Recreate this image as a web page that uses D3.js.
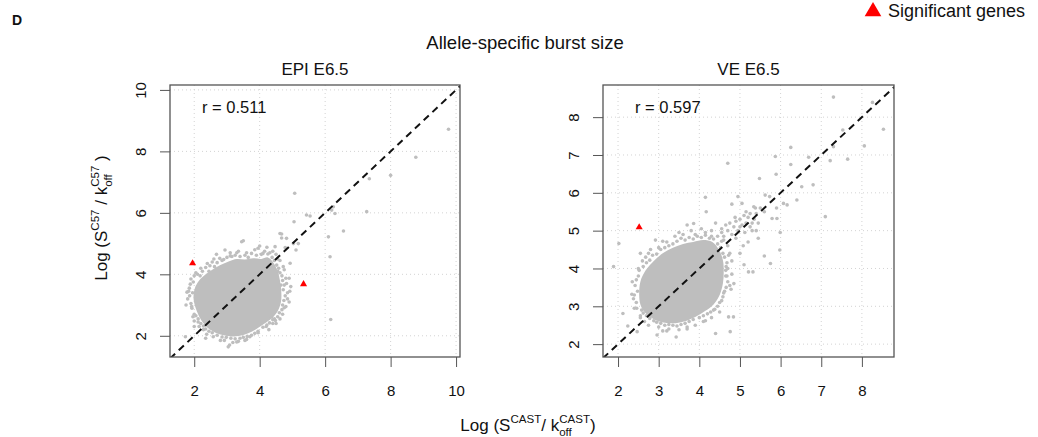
<!DOCTYPE html>
<html>
<head>
<meta charset="utf-8">
<script src="https://cdn.jsdelivr.net/npm/d3@7"></script>
<style>
  body { margin: 0; background: #fff; }
  text { font-family: "Liberation Sans", Arial, Helvetica, sans-serif; fill: #111; white-space: pre; }
</style>
</head>
<body>
<svg id="chart" width="1038" height="437"></svg>
<script>
// ---- data ----
var epiTicks = [2, 4, 6, 8, 10];
var veTicks = [2, 3, 4, 5, 6, 7, 8];
var rLabels = ["r = 0.511", "r = 0.597"];

// dense centre of each cloud (outline, data units)
var epiCore = [[1.98,3.20],[2.02,3.55],[2.15,3.80],[2.35,4.00],[2.55,4.15],[2.80,4.30],[3.05,4.42],[3.30,4.50],
  [3.55,4.48],[3.80,4.52],[4.05,4.50],[4.25,4.55],[4.42,4.38],[4.55,4.10],[4.62,3.80],[4.66,3.45],[4.65,3.10],
  [4.55,2.80],[4.38,2.58],[4.15,2.40],[3.90,2.22],[3.65,2.08],[3.40,2.00],[3.15,1.98],[2.90,2.02],[2.65,2.10],
  [2.42,2.25],[2.22,2.50],[2.08,2.80]];
var veCore = [[2.52,3.30],[2.55,3.65],[2.68,3.95],[2.88,4.20],[3.10,4.40],[3.35,4.55],[3.60,4.65],[3.85,4.70],
  [4.10,4.75],[4.32,4.70],[4.48,4.50],[4.58,4.22],[4.60,3.90],[4.58,3.60],[4.50,3.30],[4.35,3.05],[4.15,2.88],
  [3.90,2.72],[3.62,2.60],[3.35,2.55],[3.08,2.58],[2.85,2.68],[2.65,2.85],[2.55,3.05]];

// single genes outside the dense centre
var epiPoints = [[1.85,3.55],[1.80,3.20],[1.90,3.85],[2.05,4.05],[2.20,4.20],[2.40,4.35],[2.60,4.50],[2.68,4.65],
  [2.94,4.79],[2.85,4.45],[3.10,4.60],[3.30,4.70],[3.45,5.06],[3.50,5.09],[3.60,4.70],[3.85,4.80],[4.00,4.92],
  [4.10,4.68],[4.31,4.70],[4.47,4.90],[4.62,5.33],[4.67,5.31],[4.67,5.18],[4.82,5.17],[4.78,4.87],[5.03,5.00],
  [5.11,4.79],[5.18,5.00],[4.93,4.36],[4.80,3.87],[4.90,3.87],[4.95,3.60],[4.85,3.40],[4.90,3.10],[4.75,2.91],
  [4.70,2.70],[4.45,2.55],[4.36,2.62],[4.40,2.40],[4.20,2.30],[3.95,2.10],[3.70,1.97],[3.55,1.85],[3.30,1.80],
  [3.04,1.64],[3.08,1.70],[2.80,1.85],[2.58,1.97],[2.35,1.92],[2.28,2.20],[2.12,2.45],[2.00,2.70],[1.92,2.95],
  [1.73,1.97],[1.83,3.45],[1.75,3.00],[2.00,2.30],[4.55,4.10],[4.65,3.65],[4.55,4.50],[4.35,4.30],
  [1.90,3.05],[1.95,3.40],[1.88,3.68],[1.97,3.75],[1.93,2.90],[1.86,3.30],[2.00,3.95],[1.78,3.42],[1.96,2.62],
  [2.10,4.00],[2.25,4.10],[2.18,3.95],[2.35,4.22],[2.48,4.28],[2.55,4.40],[2.70,4.38],[2.78,4.52],[2.90,4.48],
  [2.45,4.10],[2.62,4.25],[3.00,4.55],[3.15,4.58],[3.25,4.62],[3.40,4.58],[3.55,4.62],[3.65,4.55],[3.75,4.68],
  [3.90,4.62],[4.05,4.65],[4.15,4.75],[4.25,4.66],[3.35,4.75],[3.95,4.85],[4.22,4.88],[3.10,4.70],[4.38,4.55],
  [4.45,4.45],[4.52,4.30],[4.58,4.20],[4.62,4.05],[4.68,3.95],[4.72,4.25],[4.50,4.65],[4.40,4.75],[4.62,4.45],
  [4.75,4.15],[4.70,3.80],[4.75,3.65],[4.72,3.50],[4.78,3.30],[4.74,3.15],[4.70,3.00],[4.68,2.85],[4.82,3.70],
  [4.85,3.20],[4.80,2.95],[4.92,3.45],[4.60,2.75],[4.55,2.62],[4.48,2.50],[4.40,2.52],[4.30,2.42],[4.22,2.35],
  [4.10,2.28],[4.50,2.40],[4.62,2.55],[4.28,2.20],[3.95,2.15],[3.85,2.08],[3.75,2.02],[3.62,1.98],[3.50,1.95],
  [3.40,1.92],[3.25,1.90],[3.12,1.92],[2.98,1.95],[2.85,1.96],[2.70,2.02],[3.35,1.82],[3.60,1.88],[2.92,1.85],
  [3.18,1.78],[2.55,2.10],[2.45,2.15],[2.35,2.22],[2.28,2.32],[2.20,2.40],[2.12,2.55],[2.05,2.65],[2.38,2.05],
  [2.15,2.30],[2.00,2.48],
  [5.07,6.64],[5.05,5.71],[5.43,5.93],[5.54,5.90],[6.25,6.20],[6.20,6.09],[6.30,5.98],[6.10,5.22],[6.15,4.57],
  [6.17,2.53],[6.56,5.41],[7.27,6.04],[7.35,7.11],[8.00,7.22],[8.77,7.81],[9.77,8.72]];
var vePoints = [[2.40,3.30],[2.34,3.32],[2.45,3.70],[2.50,4.00],[2.60,4.20],[2.75,4.40],[2.92,4.75],[2.55,4.40],
  [3.00,4.55],[3.20,4.70],[3.40,4.85],[3.70,5.15],[3.86,5.19],[3.60,4.90],[3.90,4.90],[4.15,4.95],[4.30,4.85],
  [4.15,5.88],[4.17,5.50],[4.40,5.20],[4.55,4.95],[4.60,4.75],[4.70,4.60],[4.75,4.40],[4.80,4.20],[4.70,4.00],
  [4.65,3.80],[4.75,3.55],[4.60,3.35],[4.50,3.10],[4.35,2.90],[4.72,2.72],[4.84,2.72],[4.76,2.33],[4.40,2.28],
  [4.10,2.60],[3.90,2.50],[3.70,2.40],[3.43,2.19],[3.20,2.35],[2.96,2.24],[3.00,2.45],[2.75,2.50],[2.47,2.33],
  [2.24,2.48],[2.12,2.81],[2.55,2.75],[2.40,2.95],[2.02,4.66],[1.89,4.05],
  [2.45,3.10],[2.48,3.40],[2.42,3.55],[2.50,3.80],[2.38,3.20],[2.46,2.95],[2.35,3.65],[2.52,3.95],[2.62,4.05],
  [2.70,4.15],[2.78,4.22],[2.85,4.35],[2.95,4.38],[3.05,4.50],[3.15,4.55],[3.25,4.60],[2.80,4.50],[3.10,4.72],
  [2.68,4.30],[3.35,4.65],[3.45,4.72],[3.55,4.80],[3.65,4.75],[3.75,4.82],[3.85,4.78],[3.95,4.85],[4.05,4.82],
  [4.15,4.88],[4.25,4.80],[4.35,4.78],[3.50,4.95],[3.80,5.00],[4.05,5.05],[4.30,5.00],[4.45,4.65],[4.52,4.55],
  [4.58,4.40],[4.62,4.30],[4.68,4.15],[4.66,4.05],[4.72,4.35],[4.55,4.72],[4.65,3.95],[4.68,3.80],[4.70,3.65],
  [4.66,3.50],[4.62,3.40],[4.58,3.25],[4.55,3.15],[4.80,3.85],[4.78,3.45],[4.85,3.60],[4.45,3.00],[4.38,2.92],
  [4.28,2.85],[4.20,2.80],[4.10,2.75],[4.00,2.70],[4.30,2.70],[4.50,2.85],[4.15,2.62],[3.85,2.65],[3.75,2.60],
  [3.65,2.55],[3.55,2.52],[3.45,2.48],[3.35,2.50],[3.25,2.52],[3.15,2.50],[3.05,2.55],[2.95,2.58],[3.50,2.38],
  [3.25,2.40],[3.70,2.45],[3.10,2.35],[2.88,2.62],[2.78,2.68],[2.70,2.75],[2.62,2.82],[2.58,2.90],[2.65,2.60],
  [2.55,2.70],
  [4.60,4.85],[4.70,5.00],[4.80,4.90],[4.85,5.10],[4.90,5.25],[4.95,5.00],[5.00,5.30],[5.05,5.15],[5.10,5.40],
  [5.15,5.20],[5.20,5.35],[5.25,5.10],[5.30,5.00],[5.35,5.30],[5.40,5.45],[5.45,5.20],[5.05,5.72],[4.80,5.70],
  [4.95,5.90],[5.34,5.63],[5.21,3.91],[5.32,3.91],[5.10,4.10],[5.00,4.40],[5.20,4.70],[5.45,4.80],[5.50,5.60],
  [5.60,5.50],[4.45,4.85],[4.55,5.05],[4.65,5.15],[4.75,5.20],[4.88,5.35],[5.00,5.10],[5.15,5.50],[5.25,5.45],
  [5.30,5.20],[5.40,5.00],[5.38,5.60],[5.12,4.95],[4.90,4.80],[5.08,4.60],
  [7.30,8.53],[8.26,8.39],[8.53,7.68],[8.06,7.24],[7.65,6.89],[7.22,6.85],[7.30,7.22],[7.53,7.66],
  [7.10,5.37],[6.25,7.20],[6.25,6.75],[6.69,6.94],[6.80,6.21],[6.52,6.16],[5.87,6.96],[5.89,6.49],[6.07,5.72],
  [6.16,5.68],[5.99,4.95],[5.98,4.49],[5.75,4.13],[5.60,4.33],[5.79,5.32],[5.91,5.32],[5.48,6.38],[5.62,5.94],
  [5.73,5.90],[4.70,6.78],[6.40,5.81],[5.90,5.60]];

// significant genes (red triangles)
var epiSig = [[1.95,4.36],[5.34,3.68]];
var veSig = [[2.52,5.09]];

var svg = d3.select("#chart");

var panels = [
  {name: "EPI E6.5", left: 170, top: 85, w: 290, h: 272, xd: [1.26,10.12], yd: [1.31,10.16],
   ticks: epiTicks, core: epiCore, pts: epiPoints, sig: epiSig, r: rLabels[0]},
  {name: "VE E6.5", left: 603, top: 85, w: 291, h: 272, xd: [1.63,8.79], yd: [1.66,8.85],
   ticks: veTicks, core: veCore, pts: vePoints, sig: veSig, r: rLabels[1]}
];

panels.forEach(function(p, i) {
  var x = d3.scaleLinear().domain(p.xd).range([0, p.w]);
  var y = d3.scaleLinear().domain(p.yd).range([p.h, 0]);
  var g = svg.append("g").attr("transform", "translate(" + p.left + "," + p.top + ")");

  g.append("clipPath").attr("id", "clip" + i)
    .append("rect").attr("width", p.w).attr("height", p.h);

  // dotted grid
  g.selectAll(".vg").data(p.ticks).enter().append("line")
    .attr("x1", function(d) { return x(d); }).attr("x2", function(d) { return x(d); })
    .attr("y1", 0).attr("y2", p.h)
    .attr("stroke", "#d3d3d3").attr("stroke-dasharray", "1,3");
  g.selectAll(".hg").data(p.ticks).enter().append("line")
    .attr("y1", function(d) { return y(d); }).attr("y2", function(d) { return y(d); })
    .attr("x1", 0).attr("x2", p.w)
    .attr("stroke", "#d3d3d3").attr("stroke-dasharray", "1,3");

  var plot = g.append("g").attr("clip-path", "url(#clip" + i + ")");

  // dense core
  plot.append("path")
    .attr("d", d3.line().curve(d3.curveCatmullRomClosed)
      .x(function(d) { return x(d[0]); }).y(function(d) { return y(d[1]); })(p.core))
    .attr("fill", "#bebebe");

  plot.selectAll("circle").data(p.pts).enter().append("circle")
    .attr("cx", function(d) { return x(d[0]); })
    .attr("cy", function(d) { return y(d[1]); })
    .attr("r", 1.8)
    .attr("fill", "#bebebe");

  // y = x
  var lo = Math.min(p.xd[0], p.yd[0]), hi = Math.max(p.xd[1], p.yd[1]);
  plot.append("line")
    .attr("x1", x(lo)).attr("y1", y(lo)).attr("x2", x(hi)).attr("y2", y(hi))
    .attr("stroke", "#111").attr("stroke-width", 2).attr("stroke-dasharray", "7,5");

  plot.selectAll(".sig").data(p.sig).enter().append("path")
    .attr("d", d3.symbol().type(d3.symbolTriangle).size(22))
    .attr("transform", function(d) { return "translate(" + x(d[0]) + "," + y(d[1]) + ")"; })
    .attr("fill", "#f00");

  g.append("rect").attr("width", p.w).attr("height", p.h)
    .attr("fill", "none").attr("stroke", "#555").attr("stroke-width", 1.3);

  // axes
  var xa = g.append("g").attr("transform", "translate(0," + p.h + ")")
    .call(d3.axisBottom(x).tickValues(p.ticks).tickSize(10).tickFormat(d3.format("d")));
  xa.select(".domain").remove();
  xa.selectAll("line").attr("stroke", "#555");
  xa.selectAll("text").attr("y", 39).attr("dy", null)
    .style("font-size", "15px").attr("fill", "#222");

  var ya = g.append("g")
    .call(d3.axisLeft(y).tickValues(p.ticks).tickSize(10).tickFormat(d3.format("d")));
  ya.select(".domain").remove();
  ya.selectAll("line").attr("stroke", "#555");
  ya.selectAll("text").attr("x", null).attr("dy", null)
    .attr("text-anchor", "middle").attr("transform", "translate(-24,0) rotate(-90)")
    .style("font-size", "15px").attr("fill", "#222");

  g.append("text").attr("x", p.w / 2).attr("y", -10).attr("text-anchor", "middle")
    .style("font-size", "17px").text(p.name);
  g.append("text").attr("x", 32).attr("y", 28).style("font-size", "16.5px").text(p.r);
});

// label with super/subscripts; parts laid out one after another
function richLabel(parts, size) {
  var g = svg.append("g"), pos = 0, hold = 0;
  parts.forEach(function(q) {
    var fs = q.r === "n" ? size : size * 0.68;
    var t = g.append("text").attr("x", pos)
      .attr("y", q.r === "sup" ? -size * 0.45 : (q.r === "sub" ? size * 0.28 : 0))
      .style("font-size", fs + "px").text(q.t);
    var w = t.node().getComputedTextLength();
    if (q.hold) { hold = w; } else { pos += Math.max(w, hold); hold = 0; }
  });
  return {g: g, w: pos};
}

var xl = richLabel([{t: "Log (S", r: "n"}, {t: "CAST", r: "sup"}, {t: "/ k", r: "n"},
  {t: "off", r: "sub", hold: true}, {t: "CAST", r: "sup"}, {t: ")", r: "n"}], 17);
xl.g.attr("transform", "translate(" + (528 - xl.w / 2) + ",431)");

var yl = richLabel([{t: "Log (S", r: "n"}, {t: "C57", r: "sup"}, {t: " / k", r: "n"},
  {t: "off", r: "sub", hold: true}, {t: "C57", r: "sup"}, {t: " )", r: "n"}], 17);
yl.g.attr("transform", "translate(107," + (218 + yl.w / 2) + ") rotate(-90)");

svg.append("text").attr("x", 525).attr("y", 49).attr("text-anchor", "middle")
  .style("font-size", "18.5px").text("Allele-specific burst size");

svg.append("text").attr("x", 12).attr("y", 25).style("font-size", "14px")
  .style("font-weight", "bold").text("D");

// legend
svg.append("path")
  .attr("d", d3.symbol().type(d3.symbolTriangle).size(120))
  .attr("transform", "translate(873,11.5)").attr("fill", "#f00");
svg.append("text").attr("x", 888).attr("y", 17).style("font-size", "18px").text("Significant genes");
</script>
</body>
</html>
